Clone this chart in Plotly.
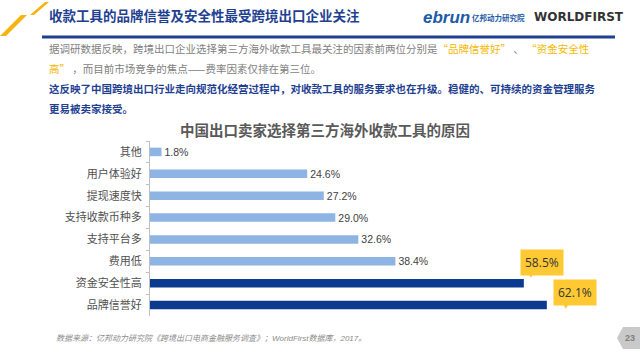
import plotly.graph_objects as go

# ---- data ----
categories = ["其他", "用户体验好", "提现速度快", "支持收款币种多", "支持平台多", "费用低", "资金安全性高", "品牌信誉好"]
values = [1.8, 24.6, 27.2, 29.0, 32.6, 38.4, 58.5, 62.1]
highlighted = [False, False, False, False, False, False, True, True]

chart_title = "中国出口卖家选择第三方海外收款工具的原因"
header_title = "收款工具的品牌信誉及安全性最受跨境出口企业关注"
source_text = "数据来源：亿邦动力研究院《跨境出口电商金融服务调查》；WorldFirst数据库，2017。"
page_no = "23"

W, H = 640, 357
def px(x):
    return x / W
def py(y):
    return 1 - y / H

LIGHT = "#8EB4E3"
DARK = "#0B3A8E"
YELLOW = "#FFC933"
NAVY = "#1F3F91"
GRAY_TXT = "#404040"
FONT = "Liberation Sans, Noto Sans CJK SC"

bar_colors = [DARK if h else LIGHT for h in highlighted]
bar_text = ["" if h else f"{v:.1f}%" for v, h in zip(values, highlighted)]

fig = go.Figure()
fig.add_trace(go.Bar(
    y=categories, x=values, orientation="h",
    marker=dict(color=bar_colors, line=dict(width=0)),
    width=0.39,
    text=bar_text, textposition="outside", constraintext="none",
    textfont=dict(size=10.5, color=GRAY_TXT, family=FONT),
    cliponaxis=False, hoverinfo="skip",
))

n = len(categories)
fig.update_layout(
    width=W, height=H,
    margin=dict(l=0, r=0, t=0, b=0),
    paper_bgcolor="white", plot_bgcolor="white",
    showlegend=False,
    font=dict(family=FONT, color=GRAY_TXT),
    xaxis=dict(domain=[px(150), px(620)], range=[0, 73.55], visible=False),
    yaxis=dict(domain=[py(316), py(141)], type="category",
               categoryorder="array", categoryarray=categories,
               range=[n - 0.5, -0.5], autorange=False,
               showline=True, linecolor="#BFBFBF", linewidth=1,
               ticks="outside", tickson="boundaries", ticklen=3, tickcolor="#BFBFBF",
               ticklabelstandoff=5,
               tickfont=dict(size=11, color="#505050", family=FONT),
               showgrid=False, zeroline=False),
)

anns = []
shapes = []
# callouts for highlighted bars (pixel offsets from bar end / bar centre)
callout_shift = {6: (18, 20.5), 7: (28.5, 12.5)}
pointer_tip = {6: (7, 5.5, 10.5), 7: (19, -4, 2.5)}   # tip dx, tip dy, base dy
for i, (c, v, h) in enumerate(zip(categories, values, highlighted)):
    if not h:
        continue
    tx, ty, by = pointer_tip[i]
    shapes.append(dict(type="path", xref="x", yref="y", xsizemode="pixel", ysizemode="pixel",
                       xanchor=v, yanchor=i,
                       path=f"M {tx-4},{by+1} L {tx+4},{by+1} L {tx},{ty} Z",
                       fillcolor=YELLOW, line=dict(width=0)))
    dx, dy = callout_shift[i]
    anns.append(dict(x=v, y=c, xref="x", yref="y", text=f"{v:.1f}%", showarrow=False,
                     xanchor="center", yanchor="middle", xshift=dx, yshift=dy,
                     bgcolor=YELLOW, borderpad=4,
                     font=dict(size=12, color="#333333", family="Open Sans, Liberation Sans")))

# chart title
anns.append(dict(x=px(325), y=py(129), xref="paper", yref="paper", text=f"<b>{chart_title}</b>",
                 showarrow=False, xanchor="center", yanchor="middle",
                 font=dict(size=14.5, color="#595959", family="Noto Sans CJK SC")))
# header
anns.append(dict(x=px(47), y=py(15), xref="paper", yref="paper", text=f"<b>{header_title}</b>",
                 showarrow=False, xanchor="left", yanchor="middle",
                 font=dict(size=13.5, color=NAVY, family="Noto Sans CJK SC")))
# logos
anns.append(dict(x=px(421), y=py(17), xref="paper", yref="paper", text="<b><i>ebrun</i></b>",
                 showarrow=False, xanchor="left", yanchor="middle",
                 font=dict(size=17, color="#1E5AA8", family="Liberation Sans")))
anns.append(dict(x=px(470), y=py(17), xref="paper", yref="paper", text="<b>亿邦动力研究院</b>",
                 showarrow=False, xanchor="left", yanchor="middle",
                 font=dict(size=7.5, color="#1E5AA8", family="Noto Sans CJK SC")))
anns.append(dict(x=px(532), y=py(17), xref="paper", yref="paper", text="<b>WORLDFIRST</b>",
                 showarrow=False, xanchor="left", yanchor="middle",
                 font=dict(size=12, color="#333333", family="DejaVu Sans")))

# body text
ys = "color:#F5B800"
body = [
    (49, "#7F7F7F", False,
     f"据调研数据反映，跨境出口企业选择第三方海外收款工具最关注的因素前两位分别是<span style='{ys}'>“品牌信誉好”</span> 、 <span style='{ys}'>“资金安全性</span>"),
    (69, "#7F7F7F", False,
     f"<span style='{ys}'>高”</span> ，而目前市场竞争的焦点——费率因素仅排在第三位。"),
    (88, NAVY, True,
     "这反映了中国跨境出口行业走向规范化经营过程中，对收款工具的服务要求也在升级。稳健的、可持续的资金管理服务"),
    (108, NAVY, True, "更易被卖家接受。"),
]
for y, col, bold, txt in body:
    anns.append(dict(x=px(47), y=py(y), xref="paper", yref="paper",
                     text=f"<b>{txt}</b>" if bold else txt,
                     showarrow=False, xanchor="left", yanchor="middle",
                     font=dict(size=10.5, color=col, family="Noto Sans CJK SC")))

# source
anns.append(dict(x=px(54), y=py(338), xref="paper", yref="paper", text=f"<i>{source_text}</i>",
                 showarrow=False, xanchor="left", yanchor="middle",
                 font=dict(size=8, color="#8C8C8C", family="Liberation Sans, Noto Sans CJK SC")))
# page number
anns.append(dict(x=px(630), y=py(338), xref="paper", yref="paper", text=f"<b>{page_no}</b>",
                 showarrow=False, xanchor="center", yanchor="middle",
                 font=dict(size=9, color="#7F7F7F", family="Liberation Sans")))
fig.update_layout(annotations=anns)

def path(points):
    return "M " + " L ".join(f"{px(x):.4f},{py(y):.4f}" for x, y in points) + " Z"

shapes += [
    # header underline
    dict(type="line", xref="paper", yref="paper", x0=px(42), x1=px(615), y0=py(37), y1=py(37),
         line=dict(color=NAVY, width=3)),
    # decorative stripes
    dict(type="path", xref="paper", yref="paper", path=path([(0, 36), (6, 36), (27, 15), (21, 15)]),
         fillcolor="#F5B50F", line=dict(width=0)),
    dict(type="path", xref="paper", yref="paper", path=path([(30, 15), (34, 15), (49, 2), (45, 2)]),
         fillcolor="#F5B50F", line=dict(width=0)),
    # page marker
    dict(type="path", xref="paper", yref="paper",
         path=path([(617, 338), (623, 327), (640, 327), (640, 349), (623, 349)]),
         fillcolor="#C9C9C9", line=dict(width=0), layer="below"),
]
fig.update_layout(shapes=shapes)

fig.write_html("out.html", config={"displayModeBar": False},
               post_script="document.body.style.margin='0';")
